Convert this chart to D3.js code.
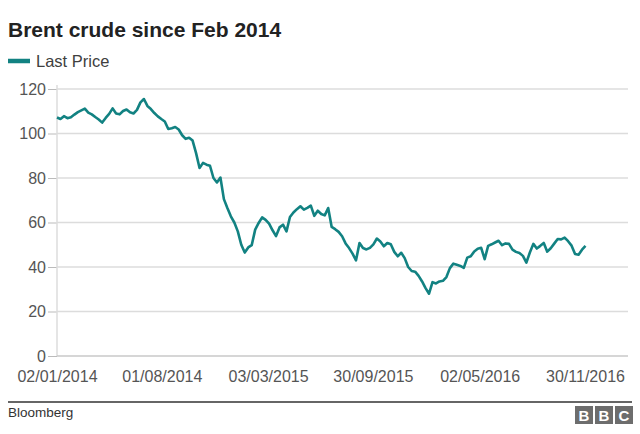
<!DOCTYPE html>
<html><head><meta charset="utf-8">
<script src="https://cdn.jsdelivr.net/npm/d3@7"></script>
<style>
body{margin:0;background:#fff;}
svg text{font-family:"Liberation Sans",Arial,Helvetica,sans-serif;}
</style></head>
<body><svg id="c" width="640" height="434"></svg>
<script>
const title = "Brent crude since Feb 2014";
const seriesName = "Last Price";
const source = "Bloomberg";
const startDate = "2014-01-02";
const stepDays = 7;
const prices = [
107.2,106.5,107.8,106.9,107.3,108.5,109.6,110.4,111.2,109.4,
108.6,107.4,106.3,104.9,107.0,108.8,111.3,109.0,108.6,110.1,
110.8,109.5,109.0,110.6,114.0,115.5,112.4,111.0,109.2,107.7,
106.5,105.4,102.0,102.4,102.9,101.8,99.2,97.6,98.1,96.8,
91.2,84.5,86.8,86.0,85.5,80.0,78.0,80.2,70.5,66.5,
62.8,60.0,56.0,50.0,46.5,48.8,49.8,56.8,59.8,62.3,
61.2,59.5,56.5,53.9,57.8,59.0,56.0,62.5,64.5,66.0,
67.3,65.8,66.6,67.6,63.0,65.3,63.8,63.2,66.5,58.0,
57.0,55.8,53.8,50.6,48.5,46.0,43.0,50.8,48.5,47.9,
48.6,50.2,52.8,51.5,49.3,50.8,50.2,46.8,44.8,46.4,
44.0,40.0,38.2,37.9,36.0,33.5,30.5,28.0,33.2,32.6,
33.5,33.8,35.5,39.5,41.5,41.0,40.5,39.6,44.2,44.8,
47.0,48.2,48.6,43.5,49.5,50.2,51.0,51.8,49.8,50.6,
50.4,47.8,46.8,46.3,45.0,42.0,46.5,50.4,48.3,49.5,
50.8,46.9,48.4,50.5,52.6,52.4,53.2,51.6,49.6,45.8,
45.5,47.8,49.5
];
const xTickDates = ["2014-01-02","2014-08-01","2015-03-03","2015-09-30","2016-05-02","2016-11-30"];
const yTicks = [0,20,40,60,80,100,120];

const parse = d3.timeParse("%Y-%m-%d");
const fmt = d3.timeFormat("%d/%m/%Y");
const t0 = parse(startDate);
const data = prices.map((v,i)=>({date:d3.timeDay.offset(t0,i*stepDays),value:v}));

const svg = d3.select("#c");
const teal = "#128282";
const plotL = 57, plotR = 628, plotT = 89, plotB = 356;

const x = d3.scaleTime().domain([parse(xTickDates[0]), parse(xTickDates[5])]).range([57,585]);
const y = d3.scaleLinear().domain([0,120]).range([plotB, plotT]);

svg.append("text").attr("x",8).attr("y",37).attr("font-size",21).attr("font-weight","bold").attr("fill","#222").text(title);
svg.append("line").attr("x1",8).attr("x2",30).attr("y1",61).attr("y2",61).attr("stroke",teal).attr("stroke-width",4.5);
svg.append("text").attr("x",36).attr("y",66.5).attr("font-size",16.5).attr("fill","#404040").text(seriesName);

const g = svg.append("g");
g.selectAll("line.grid").data(yTicks.slice(1)).join("line")
 .attr("x1",plotL).attr("x2",plotR).attr("y1",d=>y(d)).attr("y2",d=>y(d))
 .attr("stroke","#dcdcdc").attr("stroke-width",1.5);

const yAxis = svg.append("g").attr("transform",`translate(${plotL},0)`)
  .call(d3.axisLeft(y).tickValues(yTicks).tickSize(9).tickPadding(2));
yAxis.select(".domain").remove();
yAxis.selectAll("line").attr("stroke","#bbb");
yAxis.selectAll("text").attr("font-size",16).attr("fill","#555").attr("font-family","Liberation Sans, Arial, sans-serif");

svg.append("line").attr("x1",plotL).attr("x2",plotL).attr("y1",85).attr("y2",plotB).attr("stroke","#dcdcdc").attr("stroke-width",1.5);
svg.append("line").attr("x1",plotL).attr("x2",plotR).attr("y1",plotB).attr("y2",plotB).attr("stroke","#c8c8c8").attr("stroke-width",1.5);

const xAxis = svg.append("g").attr("transform",`translate(0,${plotB})`)
  .call(d3.axisBottom(x).tickValues(xTickDates.map(parse)).tickFormat(fmt).tickSize(0).tickPadding(15));
xAxis.select(".domain").remove();
xAxis.selectAll("text").attr("font-size",16).attr("fill","#555").attr("font-family","Liberation Sans, Arial, sans-serif");

const line = d3.line().x(d=>x(d.date)).y(d=>y(d.value));
svg.append("path").datum(data).attr("d",line).attr("fill","none").attr("stroke",teal).attr("stroke-width",2.6).attr("stroke-linejoin","round");

svg.append("line").attr("x1",8).attr("x2",632).attr("y1",402).attr("y2",402).attr("stroke","#666").attr("stroke-width",2);
svg.append("text").attr("x",8).attr("y",417).attr("font-size",13.5).attr("fill","#333").text(source);
const bbc = ["B","B","C"];
const bg = svg.append("g");
bbc.forEach((ch,i)=>{
  const bx = 575 + i*20;
  bg.append("rect").attr("x",bx).attr("y",406).attr("width",18).attr("height",18).attr("fill","#6d6d6d");
  bg.append("text").attr("x",bx+9).attr("y",421).attr("text-anchor","middle").attr("font-size",15).attr("font-weight","bold").attr("fill","#fff").text(ch);
});
</script></body></html>
